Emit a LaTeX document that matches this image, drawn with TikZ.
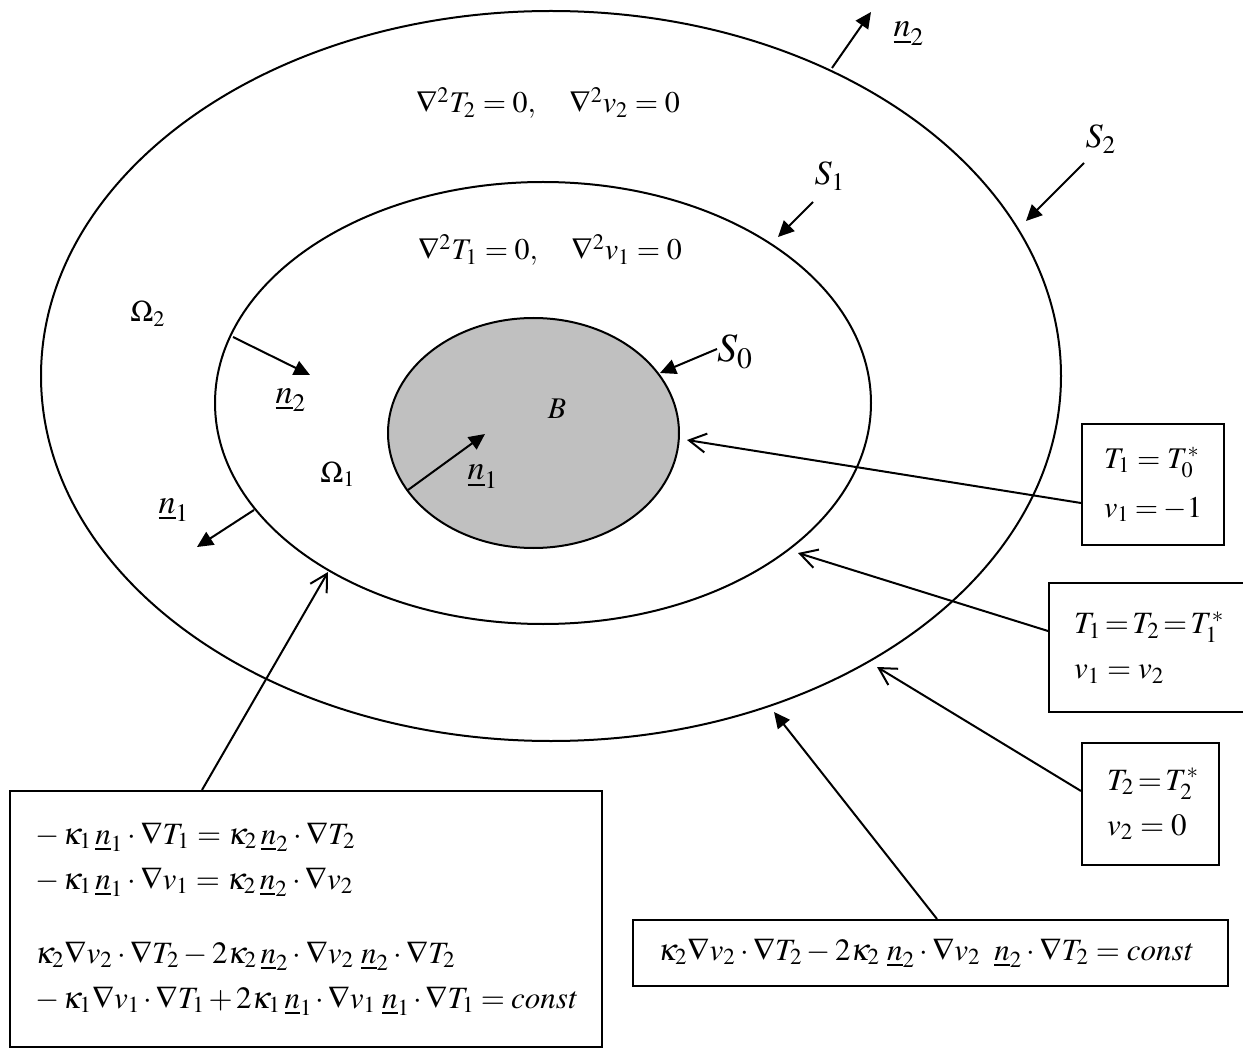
\documentclass[tikz,border=0pt]{standalone}
\usepackage{mathptmx}
\usepackage{tikz}
\usetikzlibrary{arrows.meta,positioning,calc}
\definecolor{bodygray}{RGB}{192,192,192}

\begin{document}
\begin{tikzpicture}[x=0.5pt,y=-0.5pt,line width=1pt,
  every node/.style={font=\fontsize{15.5}{22.5}\selectfont,inner sep=0pt},
  bc/.style={draw,align=left,inner xsep=12.5pt,inner ysep=0pt},
  lbl/.style={anchor=base,font=\fontsize{17}{20}\selectfont},
  normal/.style={-{Triangle[length=8pt,width=7.5pt]}},
  pointer/.style={-{Straight Barb[length=8.5pt,width=9.5pt]}}]
\useasboundingbox (0,0) rectangle (1243,1048);

% surfaces S2, S1 and the body B
\draw (551,376) ellipse [x radius=510,y radius=365];
\draw (543,403) ellipse [x radius=328,y radius=221];
\draw[fill=bodygray] (533.5,433) ellipse [x radius=145.5,y radius=115];

% field equations and regions
\node[anchor=base,font=\fontsize{15}{18}\selectfont] (eq2) at (548,113) {$\nabla^2T_2=0,\quad\nabla^2v_2=0$};
\node[anchor=base,font=\fontsize{15}{18}\selectfont] (eq1) at (550,260) {$\nabla^2T_1=0,\quad\nabla^2v_1=0$};
\node[anchor=base,font=\fontsize{15}{18}\selectfont] (om2) at (148,322) {$\Omega_2$};
\node[anchor=base,font=\fontsize{15}{18}\selectfont] (om1) at (338,482) {$\Omega_1$};
\node[anchor=base,font=\fontsize{15}{18}\selectfont] (body) at (557,418) {$B$};

% surface labels and normals
\node[lbl] (s2) at (1101,148) {$S_2$};
\node[lbl] (s1) at (830,185) {$S_1$};
\node[lbl,font=\fontsize{20}{24}\selectfont] (s0) at (735,362) {$S_0$};
\node[lbl] (n2out) at (909,37) {$\underline{n}_2$};
\node[lbl] (n2in) at (291,403) {$\underline{n}_2$};
\node[lbl] (n1b) at (483,480) {$\underline{n}_1$};
\node[lbl] (n1out) at (174,513) {$\underline{n}_1$};

\coordinate (a2) at (1084,163); \coordinate (a2t) at (1026,221);
\coordinate (a1) at (813,202);  \coordinate (a1t) at (778,237);
\coordinate (a0) at (717,349);  \coordinate (a0t) at (660,373);
\coordinate (m2) at (832,68);   \coordinate (m2t) at (871,12);
\coordinate (k2) at (233,337);  \coordinate (k2t) at (310,375);
\coordinate (k1) at (408,490);  \coordinate (k1t) at (485,434);
\coordinate (m1) at (254,510);  \coordinate (m1t) at (197,547);
\draw[normal] (a2)--(a2t); \draw[normal] (a1)--(a1t); \draw[normal] (a0)--(a0t);
\draw[normal] (m2)--(m2t); \draw[normal] (k2)--(k2t); \draw[normal] (k1)--(k1t);
\draw[normal] (m1)--(m1t);

% boundary and interface conditions
\node[bc,minimum width=71pt,minimum height=60.5pt,text width=49pt,inner xsep=11pt,font=\fontsize{15}{24.5}\selectfont] (bcB) at (1153,484.5)
  {$T_1=T_0^*$\\$v_1=-1$};
\node[bc,minimum width=96.5pt,minimum height=64.5pt,text width=72.5pt] (bcS1) at (1146.5,647.5)
  {$T_1\,{=}\,T_2\,{=}\,T_1^*$\\$v_1=v_2$};
\node[bc,minimum width=68.5pt,minimum height=61pt,text width=43.5pt] (bcS2) at (1150.5,804)
  {$T_2\,{=}\,T_2^*$\\$v_2=0$};
\node[bc,minimum width=297.5pt,minimum height=33pt,text width=272.5pt] (jump) at (930.5,953)
  {$\kappa_2\nabla v_2\cdot\nabla T_2-2\kappa_2\;\underline{n}_2\cdot\nabla v_2\;\;\underline{n}_2\cdot\nabla T_2=\mathit{const}$};
\node[bc,minimum width=296pt,minimum height=128pt,text width=271pt] (flux) at (306,919)
  {$-\,\kappa_1\,\underline{n}_1\cdot\nabla T_1=\kappa_2\,\underline{n}_2\cdot\nabla T_2$\\
   $-\,\kappa_1\,\underline{n}_1\cdot\nabla v_1=\kappa_2\,\underline{n}_2\cdot\nabla v_2$\\[14.5pt]
   $\kappa_2\nabla v_2\cdot\nabla T_2-2\kappa_2\,\underline{n}_2\cdot\nabla v_2\;\underline{n}_2\cdot\nabla T_2$\\
   $-\,\kappa_1\nabla v_1\cdot\nabla T_1+2\kappa_1\,\underline{n}_1\cdot\nabla v_1\;\underline{n}_1\cdot\nabla T_1=\mathit{const}$};

\coordinate (tB) at (687,440);
\coordinate (tS1) at (798,553);
\coordinate (tS2) at (877,667);
\coordinate (tJ) at (774,712);
\coordinate (tF) at (328,572);
\draw[pointer] ($(bcB.west)+(0,18.5)$)--(tB);
\draw[pointer] ($(bcS1.west)+(0,-16.5)$)--(tS1);
\draw[pointer] ($(bcS2.west)+(0,-13)$)--(tS2);
\draw[normal] ($(jump.north)+(6.5,0)$)--(tJ);
\draw[pointer] ($(flux.north)+(-104,0)$)--(tF);
\end{tikzpicture}
\end{document}
